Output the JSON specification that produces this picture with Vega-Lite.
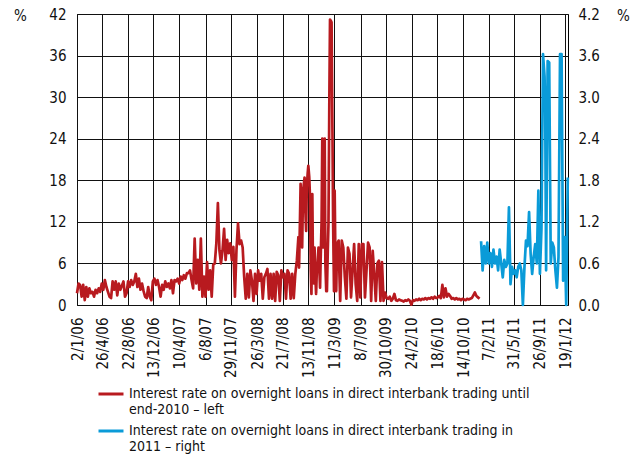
{
  "$schema": "https://vega.github.io/schema/vega-lite/v6.json",
  "width": 491,
  "height": 291,
  "autosize": {"type": "none"},
  "padding": {"left": 77, "top": 14, "right": 74, "bottom": 154},
  "background": "white",
  "config": {
    "font": "DejaVu Sans Condensed, sans-serif",
    "view": {"stroke": "#000", "strokeWidth": 1},
    "axis": {
      "labelFont": "DejaVu Sans Condensed, sans-serif",
      "labelFontSize": 15,
      "labelColor": "#111",
      "titleFont": "DejaVu Sans Condensed, sans-serif",
      "titleFontSize": 15,
      "titleFontWeight": "normal",
      "titleColor": "#111",
      "ticks": false,
      "domain": false,
      "gridColor": "#111",
      "gridOpacity": 1,
      "gridWidth": 1
    },
    "legend": {
      "labelFont": "DejaVu Sans Condensed, sans-serif",
      "labelFontSize": 14,
      "labelColor": "#111"
    }
  },
  "datasets": {
    "red": [
      {"d":"2006-01-02","v":1.7},{"d":"2006-01-09","v":3.1},{"d":"2006-01-16","v":2.9},{"d":"2006-01-23","v":1.2},{"d":"2006-01-30","v":2.9},
      {"d":"2006-02-06","v":0.7},{"d":"2006-02-13","v":2.6},{"d":"2006-02-20","v":1.2},{"d":"2006-02-27","v":2.4},
      {"d":"2006-03-06","v":1.7},{"d":"2006-03-13","v":1.9},{"d":"2006-03-20","v":1.2},{"d":"2006-03-27","v":2.2},
      {"d":"2006-04-03","v":1.7},{"d":"2006-04-10","v":2.4},{"d":"2006-04-17","v":1.9},{"d":"2006-04-24","v":3.1},
      {"d":"2006-05-01","v":2.2},{"d":"2006-05-08","v":3.6},{"d":"2006-05-15","v":2.6},{"d":"2006-05-22","v":1.9},{"d":"2006-05-29","v":1.2},
      {"d":"2006-06-05","v":1.0},{"d":"2006-06-12","v":3.4},{"d":"2006-06-19","v":2.2},{"d":"2006-06-26","v":3.4},
      {"d":"2006-07-03","v":1.4},{"d":"2006-07-10","v":3.1},{"d":"2006-07-17","v":2.2},{"d":"2006-07-24","v":2.8},{"d":"2006-07-31","v":3.4},
      {"d":"2006-08-07","v":1.2},{"d":"2006-08-14","v":1.7},{"d":"2006-08-21","v":3.4},{"d":"2006-08-28","v":2.6},
      {"d":"2006-09-04","v":3.6},{"d":"2006-09-11","v":2.9},{"d":"2006-09-18","v":3.4},{"d":"2006-09-25","v":4.5},
      {"d":"2006-10-02","v":2.6},{"d":"2006-10-09","v":3.8},{"d":"2006-10-16","v":2.2},{"d":"2006-10-23","v":3.1},{"d":"2006-10-30","v":2.0},
      {"d":"2006-11-06","v":1.2},{"d":"2006-11-13","v":1.0},{"d":"2006-11-20","v":2.6},{"d":"2006-11-27","v":1.2},
      {"d":"2006-12-04","v":0.7},{"d":"2006-12-11","v":3.4},{"d":"2006-12-18","v":3.8},{"d":"2006-12-25","v":2.9},
      {"d":"2007-01-01","v":3.6},{"d":"2007-01-08","v":2.6},{"d":"2007-01-15","v":1.2},{"d":"2007-01-22","v":2.9},{"d":"2007-01-29","v":2.2},
      {"d":"2007-02-05","v":3.4},{"d":"2007-02-12","v":2.6},{"d":"2007-02-19","v":3.1},{"d":"2007-02-26","v":2.4},
      {"d":"2007-03-05","v":3.6},{"d":"2007-03-12","v":1.7},{"d":"2007-03-19","v":3.6},{"d":"2007-03-26","v":3.4},
      {"d":"2007-04-02","v":3.8},{"d":"2007-04-09","v":3.1},{"d":"2007-04-16","v":4.1},{"d":"2007-04-23","v":3.6},{"d":"2007-04-30","v":4.3},
      {"d":"2007-05-07","v":3.8},{"d":"2007-05-14","v":4.6},{"d":"2007-05-21","v":4.6},{"d":"2007-05-28","v":5.0},
      {"d":"2007-06-04","v":3.6},{"d":"2007-06-11","v":2.4},{"d":"2007-06-18","v":9.6},{"d":"2007-06-25","v":3.1},
      {"d":"2007-07-02","v":6.5},{"d":"2007-07-09","v":2.2},{"d":"2007-07-16","v":9.6},{"d":"2007-07-23","v":1.2},{"d":"2007-07-30","v":4.1},
      {"d":"2007-08-06","v":1.2},{"d":"2007-08-13","v":6.2},{"d":"2007-08-20","v":2.2},{"d":"2007-08-27","v":5.0},
      {"d":"2007-09-03","v":1.2},{"d":"2007-09-10","v":5.8},{"d":"2007-09-17","v":6.0},{"d":"2007-09-24","v":8.9},
      {"d":"2007-10-01","v":14.7},{"d":"2007-10-08","v":7.9},{"d":"2007-10-15","v":6.0},{"d":"2007-10-22","v":7.9},{"d":"2007-10-29","v":11.0},
      {"d":"2007-11-05","v":6.5},{"d":"2007-11-12","v":9.4},{"d":"2007-11-19","v":7.5},{"d":"2007-11-26","v":8.9},
      {"d":"2007-12-03","v":6.5},{"d":"2007-12-10","v":8.4},{"d":"2007-12-17","v":1.2},{"d":"2007-12-24","v":7.9},{"d":"2007-12-31","v":11.8},
      {"d":"2008-01-07","v":8.8},{"d":"2008-01-14","v":9.3},{"d":"2008-01-21","v":8.3},{"d":"2008-01-28","v":4.0},
      {"d":"2008-02-04","v":0.9},{"d":"2008-02-11","v":4.5},{"d":"2008-02-18","v":1.1},{"d":"2008-02-25","v":5.0},
      {"d":"2008-03-03","v":3.5},{"d":"2008-03-10","v":0.6},{"d":"2008-03-17","v":4.5},{"d":"2008-03-24","v":1.6},{"d":"2008-03-31","v":5.0},
      {"d":"2008-04-07","v":3.5},{"d":"2008-04-14","v":4.5},{"d":"2008-04-21","v":0.9},{"d":"2008-04-28","v":4.0},
      {"d":"2008-05-05","v":4.5},{"d":"2008-05-12","v":5.2},{"d":"2008-05-19","v":0.9},{"d":"2008-05-26","v":4.5},
      {"d":"2008-06-02","v":0.9},{"d":"2008-06-09","v":4.5},{"d":"2008-06-16","v":0.6},{"d":"2008-06-23","v":4.8},{"d":"2008-06-30","v":4.3},
      {"d":"2008-07-07","v":0.6},{"d":"2008-07-14","v":5.0},{"d":"2008-07-21","v":4.0},{"d":"2008-07-28","v":4.5},
      {"d":"2008-08-04","v":0.9},{"d":"2008-08-11","v":5.0},{"d":"2008-08-18","v":4.5},{"d":"2008-08-25","v":0.9},
      {"d":"2008-09-01","v":4.5},{"d":"2008-09-08","v":1.0},{"d":"2008-09-15","v":4.5},{"d":"2008-09-22","v":6.4},{"d":"2008-09-29","v":9.8},
      {"d":"2008-10-02","v":5.4},{"d":"2008-10-06","v":12.0},{"d":"2008-10-09","v":17.5},{"d":"2008-10-13","v":11.0},{"d":"2008-10-16","v":8.3},
      {"d":"2008-10-20","v":16.5},{"d":"2008-10-23","v":17.3},{"d":"2008-10-27","v":18.4},{"d":"2008-10-30","v":14.0},
      {"d":"2008-11-03","v":10.7},{"d":"2008-11-06","v":17.0},{"d":"2008-11-10","v":19.0},{"d":"2008-11-13","v":20.1},{"d":"2008-11-17","v":18.5},
      {"d":"2008-11-20","v":16.0},{"d":"2008-11-24","v":5.0},{"d":"2008-11-27","v":1.6},
      {"d":"2008-12-01","v":16.0},{"d":"2008-12-04","v":5.0},{"d":"2008-12-08","v":3.1},{"d":"2008-12-11","v":8.3},{"d":"2008-12-15","v":4.0},
      {"d":"2008-12-18","v":1.6},{"d":"2008-12-22","v":5.5},{"d":"2008-12-25","v":6.0},{"d":"2008-12-29","v":8.3},
      {"d":"2009-01-05","v":2.5},{"d":"2009-01-08","v":7.0},{"d":"2009-01-12","v":12.2},{"d":"2009-01-15","v":24.0},{"d":"2009-01-19","v":8.3},
      {"d":"2009-01-22","v":15.0},{"d":"2009-01-26","v":24.0},{"d":"2009-01-29","v":6.0},
      {"d":"2009-02-02","v":2.0},{"d":"2009-02-05","v":2.0},{"d":"2009-02-09","v":8.0},{"d":"2009-02-12","v":11.7},{"d":"2009-02-16","v":30.0},
      {"d":"2009-02-19","v":41.2},{"d":"2009-02-23","v":41.0},{"d":"2009-02-26","v":40.8},
      {"d":"2009-03-02","v":25.0},{"d":"2009-03-05","v":12.0},{"d":"2009-03-09","v":2.0},{"d":"2009-03-12","v":16.5},{"d":"2009-03-16","v":5.0},
      {"d":"2009-03-19","v":2.0},{"d":"2009-03-23","v":8.8},{"d":"2009-03-26","v":9.0},{"d":"2009-03-30","v":9.3},{"d":"2009-04-02","v":5.0},
      {"d":"2009-04-06","v":0.6},{"d":"2009-04-13","v":9.3},{"d":"2009-04-20","v":8.3},{"d":"2009-04-27","v":4.0},
      {"d":"2009-05-04","v":0.9},{"d":"2009-05-11","v":8.3},{"d":"2009-05-18","v":7.4},{"d":"2009-05-25","v":1.1},
      {"d":"2009-06-01","v":5.0},{"d":"2009-06-08","v":8.8},{"d":"2009-06-15","v":3.0},{"d":"2009-06-22","v":0.6},{"d":"2009-06-29","v":8.8},
      {"d":"2009-07-06","v":1.1},{"d":"2009-07-13","v":8.8},{"d":"2009-07-20","v":8.8},{"d":"2009-07-27","v":1.1},
      {"d":"2009-08-03","v":5.0},{"d":"2009-08-10","v":9.0},{"d":"2009-08-17","v":8.3},{"d":"2009-08-24","v":0.6},{"d":"2009-08-31","v":7.8},
      {"d":"2009-09-07","v":4.5},{"d":"2009-09-14","v":0.6},{"d":"2009-09-21","v":6.0},{"d":"2009-09-28","v":6.4},
      {"d":"2009-10-05","v":0.6},{"d":"2009-10-12","v":6.2},{"d":"2009-10-19","v":0.6},{"d":"2009-10-26","v":1.8},
      {"d":"2009-11-02","v":1.0},{"d":"2009-11-09","v":0.9},{"d":"2009-11-16","v":1.2},{"d":"2009-11-23","v":0.6},{"d":"2009-11-30","v":0.9},
      {"d":"2009-12-07","v":1.6},{"d":"2009-12-14","v":0.7},{"d":"2009-12-21","v":0.6},{"d":"2009-12-28","v":0.8},
      {"d":"2010-01-04","v":0.7},{"d":"2010-01-11","v":0.6},{"d":"2010-01-18","v":0.5},{"d":"2010-01-25","v":0.7},
      {"d":"2010-02-01","v":0.6},{"d":"2010-02-08","v":0.8},{"d":"2010-02-15","v":0.6},{"d":"2010-02-22","v":0.05},
      {"d":"2010-03-01","v":0.7},{"d":"2010-03-08","v":0.6},{"d":"2010-03-15","v":0.8},{"d":"2010-03-22","v":0.7},{"d":"2010-03-29","v":0.9},
      {"d":"2010-04-05","v":0.7},{"d":"2010-04-12","v":0.9},{"d":"2010-04-19","v":0.8},{"d":"2010-04-26","v":1.0},
      {"d":"2010-05-03","v":0.8},{"d":"2010-05-10","v":1.0},{"d":"2010-05-17","v":0.9},{"d":"2010-05-24","v":1.1},{"d":"2010-05-31","v":0.9},
      {"d":"2010-06-07","v":1.2},{"d":"2010-06-14","v":1.0},{"d":"2010-06-21","v":1.1},{"d":"2010-06-28","v":1.3},
      {"d":"2010-07-05","v":1.0},{"d":"2010-07-12","v":2.9},{"d":"2010-07-19","v":1.1},{"d":"2010-07-26","v":2.4},
      {"d":"2010-08-02","v":1.2},{"d":"2010-08-09","v":1.6},{"d":"2010-08-16","v":1.3},{"d":"2010-08-23","v":0.9},{"d":"2010-08-30","v":1.0},
      {"d":"2010-09-06","v":0.8},{"d":"2010-09-13","v":1.0},{"d":"2010-09-20","v":0.8},{"d":"2010-09-27","v":0.9},
      {"d":"2010-10-04","v":0.7},{"d":"2010-10-11","v":0.9},{"d":"2010-10-18","v":0.8},{"d":"2010-10-25","v":0.7},
      {"d":"2010-11-01","v":0.9},{"d":"2010-11-08","v":0.8},{"d":"2010-11-15","v":0.9},{"d":"2010-11-22","v":1.0},{"d":"2010-11-29","v":1.4},
      {"d":"2010-12-06","v":1.8},{"d":"2010-12-13","v":1.3},{"d":"2010-12-20","v":1.1},{"d":"2010-12-27","v":0.9}
    ],
    "blue": [
      {"d":"2011-01-03","v":0.92},{"d":"2011-01-10","v":0.5},{"d":"2011-01-17","v":0.85},{"d":"2011-01-24","v":0.6},{"d":"2011-01-31","v":0.9},
      {"d":"2011-02-07","v":0.6},{"d":"2011-02-14","v":0.75},{"d":"2011-02-21","v":0.55},{"d":"2011-02-28","v":0.8},
      {"d":"2011-03-07","v":0.6},{"d":"2011-03-14","v":0.7},{"d":"2011-03-21","v":0.5},{"d":"2011-03-28","v":0.8},
      {"d":"2011-04-04","v":0.6},{"d":"2011-04-11","v":0.4},{"d":"2011-04-18","v":0.65},{"d":"2011-04-25","v":0.55},
      {"d":"2011-05-02","v":0.6},{"d":"2011-05-09","v":1.41},{"d":"2011-05-16","v":0.3},{"d":"2011-05-23","v":0.55},{"d":"2011-05-30","v":0.45},
      {"d":"2011-06-06","v":0.5},{"d":"2011-06-13","v":0.4},{"d":"2011-06-20","v":0.55},{"d":"2011-06-27","v":0.6},
      {"d":"2011-07-04","v":0.5},{"d":"2011-07-11","v":0.0},{"d":"2011-07-18","v":0.54},{"d":"2011-07-25","v":0.93},
      {"d":"2011-08-01","v":0.85},{"d":"2011-08-08","v":1.34},{"d":"2011-08-15","v":0.74},{"d":"2011-08-22","v":0.45},{"d":"2011-08-29","v":0.7},
      {"d":"2011-09-05","v":0.88},{"d":"2011-09-12","v":0.6},{"d":"2011-09-19","v":1.65},{"d":"2011-09-26","v":0.45},
      {"d":"2011-10-03","v":1.1},{"d":"2011-10-10","v":3.62},{"d":"2011-10-17","v":3.3},{"d":"2011-10-20","v":2.8},{"d":"2011-10-24","v":0.5},{"d":"2011-10-31","v":3.52},
      {"d":"2011-11-07","v":3.5},{"d":"2011-11-14","v":0.6},{"d":"2011-11-21","v":0.9},{"d":"2011-11-28","v":0.83},
      {"d":"2011-12-05","v":0.5},{"d":"2011-12-12","v":0.25},{"d":"2011-12-19","v":0.69},{"d":"2011-12-26","v":3.62},
      {"d":"2012-01-02","v":3.62},{"d":"2012-01-09","v":0.35},{"d":"2012-01-16","v":0.98},{"d":"2012-01-23","v":0.0},{"d":"2012-01-30","v":1.84}
    ]
  },
  "layer": [
    {
      "data": {"name": "red"},
      "mark": {"type": "line", "strokeWidth": 2.7, "strokeJoin": "round"},
      "encoding": {
        "x": {
          "field": "d", "type": "temporal",
          "scale": {"domain": [{"year": 2006, "month": 1, "date": 2}, {"year": 2012, "month": 1, "date": 31}]},
          "axis": {
            "title": null,
            "grid": true,
            "tickCount": 40,
            "format": "%-d/%-m/%y",
            "labelAngle": 270,
            "labelAlign": "right",
            "labelBaseline": "middle",
            "labelPadding": 12,
            "labelOverlap": false,
            "labelFlush": false,
            "values": [
              {"year": 2006, "month": 1, "date": 2}, {"year": 2006, "month": 4, "date": 26}, {"year": 2006, "month": 8, "date": 22},
              {"year": 2006, "month": 12, "date": 13}, {"year": 2007, "month": 4, "date": 10}, {"year": 2007, "month": 8, "date": 6},
              {"year": 2007, "month": 11, "date": 29}, {"year": 2008, "month": 3, "date": 26}, {"year": 2008, "month": 7, "date": 21},
              {"year": 2008, "month": 11, "date": 13}, {"year": 2009, "month": 3, "date": 11}, {"year": 2009, "month": 7, "date": 8},
              {"year": 2009, "month": 10, "date": 30}, {"year": 2010, "month": 2, "date": 24}, {"year": 2010, "month": 6, "date": 18},
              {"year": 2010, "month": 10, "date": 14}, {"year": 2011, "month": 2, "date": 7}, {"year": 2011, "month": 5, "date": 31},
              {"year": 2011, "month": 9, "date": 26}, {"year": 2012, "month": 1, "date": 19}
            ]
          }
        },
        "y": {
          "field": "v", "type": "quantitative",
          "scale": {"domain": [0, 42], "nice": false},
          "axis": {
            "values": [0, 6, 12, 18, 24, 30, 36, 42],
            "tickCount": 20,
            "grid": true,
            "labelPadding": 11,
            "title": "%",
            "titleAngle": 0,
            "titleX": -57,
            "titleY": 1,
            "titleAlign": "center",
            "titleBaseline": "middle"
          }
        },
        "color": {
          "datum": "Interest rate on overnight loans in direct interbank trading until end-2010 – left",
          "type": "nominal",
          "scale": {
            "domain": [
              "Interest rate on overnight loans in direct interbank trading until end-2010 – left",
              "Interest rate on overnight loans in direct interbank trading in 2011 – right"
            ],
            "range": ["#B81A1F", "#0A9BD8"]
          },
          "legend": {
            "title": null,
            "orient": "none",
            "legendX": 20,
            "legendY": 366,
            "direction": "vertical",
            "symbolType": "stroke",
            "symbolSize": 625,
            "symbolStrokeWidth": 3,
            "labelLimit": 0,
            "labelOffset": 4,
            "rowPadding": -2,
            "labelExpr": "datum.label == 'Interest rate on overnight loans in direct interbank trading until end-2010 – left' ? ['Interest rate on overnight loans in direct interbank trading until', 'end-2010 – left'] : ['Interest rate on overnight loans in direct interbank trading in', '2011 – right']"
          }
        }
      }
    },
    {
      "data": {"name": "blue"},
      "mark": {"type": "line", "strokeWidth": 2.7, "strokeJoin": "round"},
      "encoding": {
        "x": {"field": "d", "type": "temporal"},
        "y": {
          "field": "v", "type": "quantitative",
          "scale": {"domain": [0, 4.2], "nice": false},
          "axis": {
            "orient": "right",
            "values": [0, 0.6, 1.2, 1.8, 2.4, 3.0, 3.6, 4.2],
            "tickCount": 20,
            "format": ".1f",
            "grid": false,
            "labelPadding": 10,
            "title": "%",
            "titleAngle": 0,
            "titleX": 55,
            "titleY": 1,
            "titleAlign": "center",
            "titleBaseline": "middle"
          }
        },
        "color": {
          "datum": "Interest rate on overnight loans in direct interbank trading in 2011 – right",
          "type": "nominal"
        }
      }
    }
  ],
  "resolve": {"scale": {"y": "independent"}}
}
